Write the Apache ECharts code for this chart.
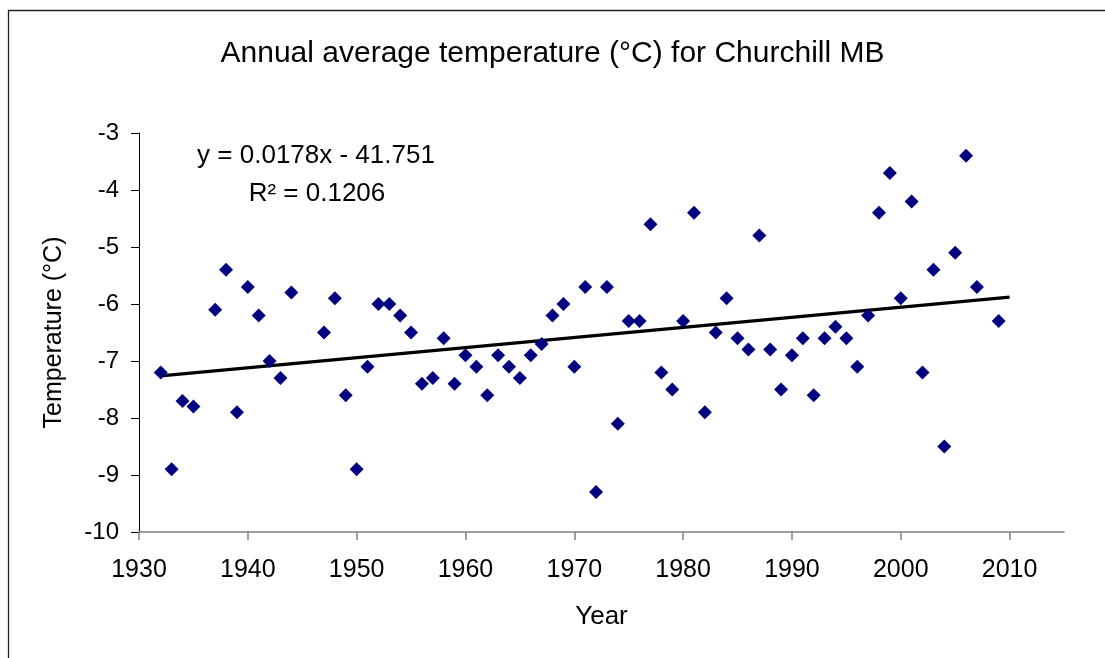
<!DOCTYPE html>
<html>
<head>
<meta charset="utf-8">
<script src="https://cdn.jsdelivr.net/npm/echarts@6/dist/echarts.min.js"></script>
<style>
html,body{margin:0;padding:0;background:#fff;}
#chart{width:1105px;height:658px;}
</style>
</head>
<body>
<div id="chart"></div>
<script>
const years = [1932,1933,1934,1935,1937,1938,1939,1940,1941,1942,1943,1944,
  1947,1948,1949,1950,1951,1952,1953,1954,1955,1956,
  1957,1958,1959,1960,1961,1962,1963,1964,1965,1966,
  1967,1968,1969,1970,1971,1972,1973,1974,1975,1976,
  1977,1978,1979,1980,1981,1982,1983,1984,1985,1986,
  1987,1988,1989,1990,1991,1992,1993,1994,1995,1996,
  1997,1998,1999,2000,2001,2002,2003,2004,2005,2006,
  2007,2009];
const temps = [-7.2,-8.9,-7.7,-7.8,-6.1,-5.4,-7.9,-5.7,-6.2,-7.0,-7.3,-5.8,
  -6.5,-5.9,-7.6,-8.9,-7.1,-6.0,-6.0,-6.2,-6.5,-7.4,
  -7.3,-6.6,-7.4,-6.9,-7.1,-7.6,-6.9,-7.1,-7.3,-6.9,
  -6.7,-6.2,-6.0,-7.1,-5.7,-9.3,-5.7,-8.1,-6.3,-6.3,
  -4.6,-7.2,-7.5,-6.3,-4.4,-7.9,-6.5,-5.9,-6.6,-6.8,
  -4.8,-6.8,-7.5,-6.9,-6.6,-7.6,-6.6,-6.4,-6.6,-7.1,
  -6.2,-4.4,-3.7,-5.9,-4.2,-7.2,-5.4,-8.5,-5.1,-3.4,
  -5.7,-6.3];
const trendYears = [1932, 2010];
const trendValues = [-7.26, -5.88];
const xTicks = [1930,1940,1950,1960,1970,1980,1990,2000,2010];
const yTicks = [-10,-9,-8,-7,-6,-5,-4,-3];
const titleText = 'Annual average temperature (°C) for Churchill MB';
const eqText = 'y = 0.0178x - 41.751';
const r2Text = 'R² = 0.1206';

const FONT = '"Liberation Sans", Arial, Helvetica, sans-serif';
const chart = echarts.init(document.getElementById('chart'), null, {renderer: 'canvas'});
chart.setOption({
  animation: false,
  backgroundColor: '#fff',
  title: {
    text: titleText, left: 'center', top: 34,
    textStyle: {fontSize: 30, fontWeight: 'normal', color: '#000', fontFamily: FONT}
  },
  grid: {left: 139, right: 41, top: 133, bottom: 126, containLabel: false},
  xAxis: {
    type: 'value', min: 1930, max: 2015, interval: 10,
    name: 'Year', nameLocation: 'middle', nameGap: 72,
    nameTextStyle: {fontSize: 26, color: '#000', fontFamily: FONT},
    axisLine: {show: true, onZero: false, lineStyle: {color: '#808080', width: 1.5}},
    axisTick: {show: true, inside: false, length: 8, customValues: xTicks, lineStyle: {color: '#808080', width: 1.5}},
    axisLabel: {margin: 26, fontSize: 25, color: '#000', fontFamily: FONT, customValues: xTicks,
      formatter: v => xTicks.indexOf(v) >= 0 ? String(v) : ''},
    splitLine: {show: false}
  },
  yAxis: {
    type: 'value', min: -10, max: -3, interval: 1,
    name: 'Temperature (°C)', nameLocation: 'middle', nameGap: 72, nameRotate: 90,
    nameTextStyle: {fontSize: 25, color: '#000', fontFamily: FONT},
    axisLine: {show: true, onZero: false, lineStyle: {color: '#000', width: 1}},
    axisTick: {show: true, inside: false, length: 8, lineStyle: {color: '#000', width: 1}},
    axisLabel: {margin: 20, fontSize: 24, color: '#000', fontFamily: FONT},
    splitLine: {show: false}
  },
  graphic: [
    {type: 'rect', silent: true, shape: {x: 8.5, y: 10.5, width: 1200, height: 800},
      style: {fill: 'none', stroke: '#222', lineWidth: 1.3}},
    {type: 'text', x: 316, y: 156, silent: true,
      style: {text: eqText, fontSize: 26, fontFamily: FONT, fill: '#000', textAlign: 'center', textVerticalAlign: 'middle'}},
    {type: 'text', x: 317, y: 194, silent: true,
      style: {text: r2Text, fontSize: 26, fontFamily: FONT, fill: '#000', textAlign: 'center', textVerticalAlign: 'middle'}}
  ],
  series: [
    {
      type: 'line', name: 'Trend',
      data: trendYears.map((y, i) => [y, trendValues[i]]),
      showSymbol: false, symbol: 'none',
      lineStyle: {color: '#000', width: 3.2}, z: 3
    },
    {
      type: 'scatter', name: 'Temperature',
      data: years.map((y, i) => [y, temps[i]]),
      symbol: 'diamond', symbolSize: 14,
      itemStyle: {color: '#000080', opacity: 1}, z: 4
    }
  ]
});
</script>
</body>
</html>
